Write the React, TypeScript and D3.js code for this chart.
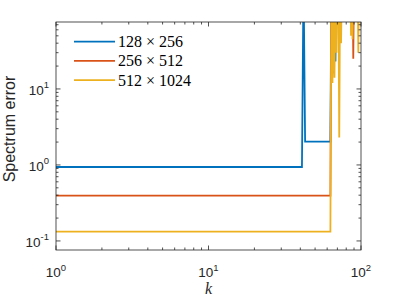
import React from 'react'
import * as d3 from 'd3'

// k values and spectrum errors (values above the top are clipped)
const blueK = [1, 41, 42, 43, 63, 64, 65, 66, 67, 68, 69, 70, 72, 75, 80, 86, 90, 95, 100]
const blueV = [0.94, 0.94, 300, 2.03, 2.03, 300, 120, 300, 90, 23, 300, 300, 300, 300, 300, 300, 300, 300, 300]

const redK = [1, 63, 64, 65, 66, 67, 68, 70, 75, 80, 87, 88, 89, 90, 95, 100]
const redV = [0.395, 0.395, 300, 60, 16, 300, 300, 300, 300, 300, 300, 300, 25, 300, 300, 300]

const yellowK = [1, 63, 64, 65, 66, 67, 68, 69, 70, 71, 72, 73, 74, 75, 80, 85, 86, 87, 88, 89, 90, 95, 96, 97, 100]
const yellowV = [0.133, 0.133, 300, 12, 300, 14, 300, 30, 300, 300, 2.3, 300, 40, 300, 300, 300, 50, 300, 45, 300, 300, 300, 30, 300, 300]

const seriesNames = ['128 \u00d7 256', '256 \u00d7 512', '512 \u00d7 1024']
const seriesColors = ['#0072BD', '#D95319', '#EDB120']
const decades = [-1, 0, 1, 2]

const W = 399
const H = 299
const m = { left: 56, right: 361, top: 22, bottom: 250 }
const axisColor = '#262626'

const Pow = ({ exp, x, y, anchor }: { exp: number; x: number; y: number; anchor: string }) => (
    <text x={x} y={y} textAnchor={anchor} fontFamily="Liberation Sans, Arial, sans-serif" fontSize={13.5} fill={axisColor}>
        10<tspan dy={-6.5} fontSize={9.5}>{exp}</tspan>
    </text>
)

export default function App() {
    const x = d3.scaleLog().domain([1, 100]).range([m.left, m.right])
    const y = d3.scaleLog().domain([0.076, 76]).range([m.bottom, m.top])

    const line = d3.line<[number, number]>().x(d => x(d[0])).y(d => y(d[1]))
    const series = [
        d3.zip(blueK, blueV) as [number, number][],
        d3.zip(redK, redV) as [number, number][],
        d3.zip(yellowK, yellowV) as [number, number][],
    ]

    const [y0, y1] = y.domain()
    const xMajor = [1, 10, 100]
    const xMinor = d3.range(0, 2).flatMap(e => d3.range(2, 10).map(i => i * 10 ** e))
    const yMajor = decades.map(e => 10 ** e).filter(v => v >= y0 && v <= y1)
    const yMinor = decades.flatMap(e => d3.range(2, 10).map(i => i * 10 ** e)).filter(v => v >= y0 && v <= y1)

    const major = 4.5
    const minor = 2.5

    return (
        <svg width={W} height={H} style={{ position: 'absolute', left: 0, top: 0 }}>
            <defs>
                <clipPath id="plot">
                    <rect x={m.left} y={m.top} width={m.right - m.left} height={m.bottom - m.top} />
                </clipPath>
            </defs>
            <rect x={0} y={0} width={W} height={H} fill="#fff" />

            <g clipPath="url(#plot)">
                {series.map((s, i) =>
                    <path key={i} d={line(s) || ''} fill="none" stroke={seriesColors[i]} strokeWidth={1.8} strokeLinejoin="miter" />
                )}
            </g>

            <g stroke={axisColor} strokeWidth={0.8} fill="none">
                <rect x={m.left} y={m.top} width={m.right - m.left} height={m.bottom - m.top} />
                {xMajor.map(v =>
                    <g key={'xM' + v}>
                        <line x1={x(v)} x2={x(v)} y1={m.bottom} y2={m.bottom - major} />
                        <line x1={x(v)} x2={x(v)} y1={m.top} y2={m.top + major} />
                    </g>
                )}
                {xMinor.map(v =>
                    <g key={'xm' + v}>
                        <line x1={x(v)} x2={x(v)} y1={m.bottom} y2={m.bottom - minor} />
                        <line x1={x(v)} x2={x(v)} y1={m.top} y2={m.top + minor} />
                    </g>
                )}
                {yMajor.map(v =>
                    <g key={'yM' + v}>
                        <line x1={m.left} x2={m.left + major} y1={y(v)} y2={y(v)} />
                        <line x1={m.right} x2={m.right - major} y1={y(v)} y2={y(v)} />
                    </g>
                )}
                {yMinor.map(v =>
                    <g key={'ym' + v}>
                        <line x1={m.left} x2={m.left + minor} y1={y(v)} y2={y(v)} />
                        <line x1={m.right} x2={m.right - minor} y1={y(v)} y2={y(v)} />
                    </g>
                )}
            </g>

            {xMajor.map(v =>
                <Pow key={'xl' + v} exp={Math.round(Math.log10(v))} x={x(v)} y={277} anchor="middle" />
            )}
            {yMajor.map(v =>
                <Pow key={'yl' + v} exp={Math.round(Math.log10(v))} x={m.left - 7} y={y(v) + 6} anchor="end" />
            )}

            <text x={(m.left + m.right) / 2} y={294} textAnchor="middle" fontFamily="Liberation Serif, serif" fontStyle="italic" fontSize={16} fill={axisColor}>k</text>
            <text transform={`translate(15,129) rotate(-90)`} textAnchor="middle" fontFamily="Liberation Sans, Arial, sans-serif" fontSize={16} fill={axisColor}>Spectrum error</text>

            {seriesNames.map((name, i) =>
                <g key={name} transform={`translate(74,${41.7 + i * 19.2})`}>
                    <line x1={0} x2={41} y1={0} y2={0} stroke={seriesColors[i]} strokeWidth={1.8} />
                    <text x={44} y={5.5} fontFamily="Liberation Serif, serif" fontSize={16} fill="#000">{name}</text>
                </g>
            )}
        </svg>
    )
}
